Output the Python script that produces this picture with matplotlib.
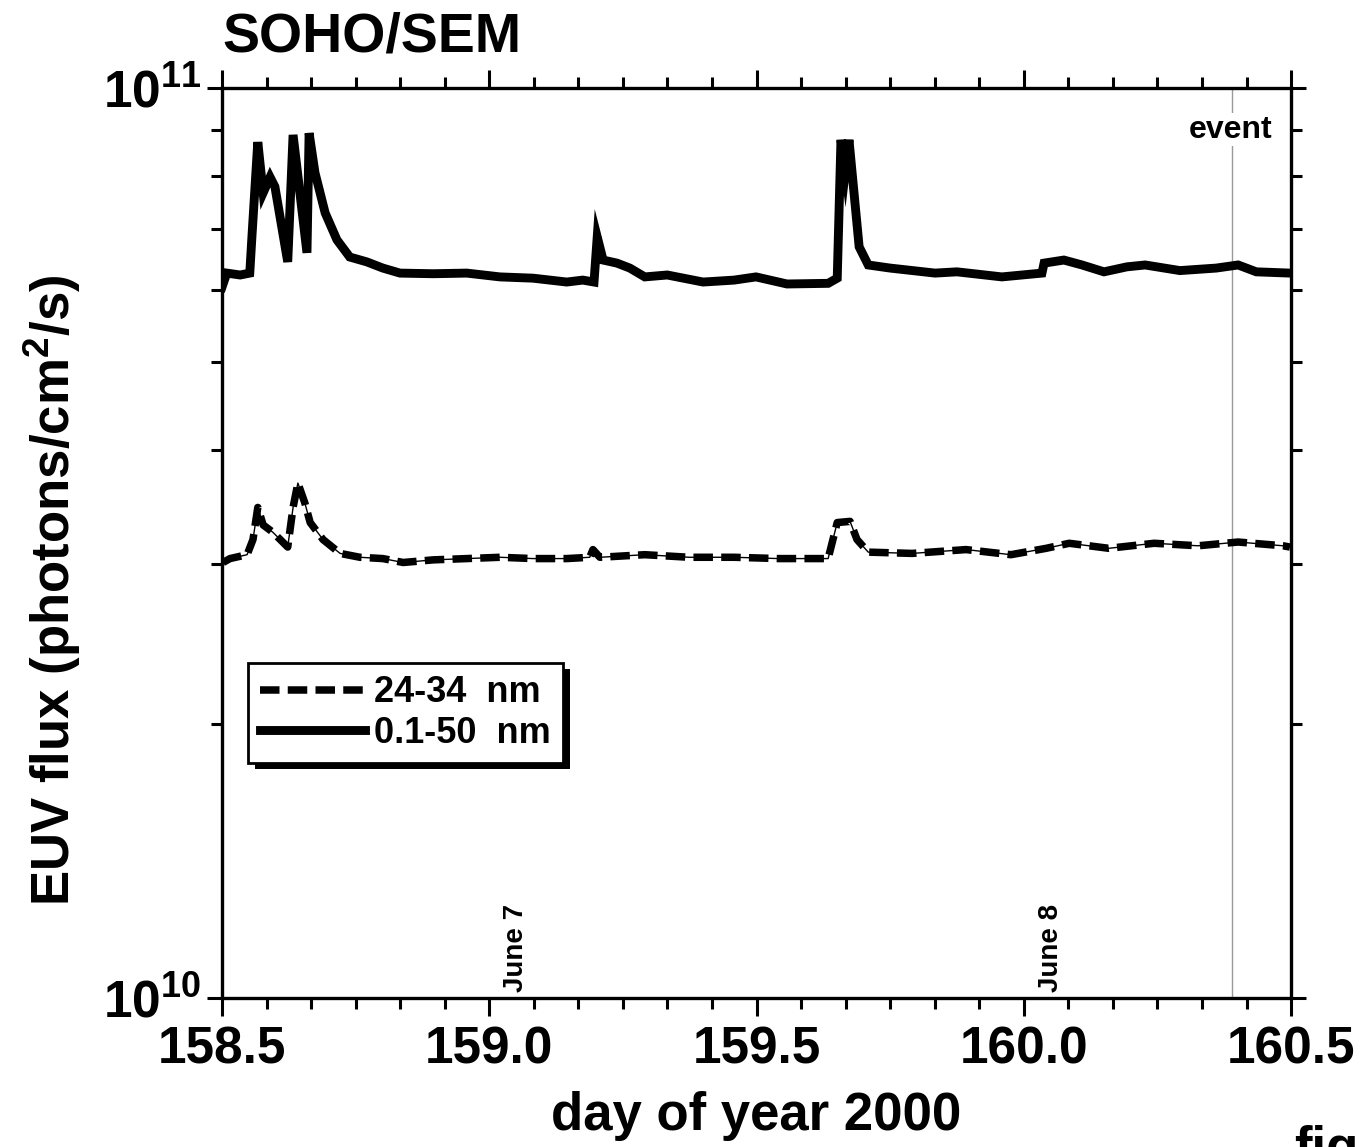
import matplotlib
matplotlib.use("Agg")
import matplotlib.pyplot as plt
from matplotlib.patches import Rectangle
from matplotlib.transforms import IdentityTransform
from matplotlib.ticker import FixedLocator, NullFormatter

plt.rcParams['font.family'] = ['Liberation Sans', 'DejaVu Sans']
plt.rcParams['font.weight'] = 'bold'
plt.rcParams['axes.labelweight'] = 'bold'
plt.rcParams['mathtext.fontset'] = 'custom'
plt.rcParams['mathtext.rm'] = 'Liberation Sans:bold'
plt.rcParams['mathtext.it'] = 'Liberation Sans:bold'
plt.rcParams['mathtext.bf'] = 'Liberation Sans:bold'

# 0.1-50 nm channel (day of year, photons/cm2/s)
day_broad = [158.500, 158.509, 158.534, 158.552, 158.556, 158.567, 158.577, 158.590,
             158.599, 158.623, 158.633, 158.659, 158.663, 158.674, 158.693, 158.715,
             158.739, 158.771, 158.801, 158.833, 158.895, 158.958, 159.020, 159.082,
             159.145, 159.175, 159.196, 159.202, 159.213, 159.239, 159.263, 159.291,
             159.333, 159.400, 159.458, 159.499, 159.557, 159.634, 159.651, 159.658,
             159.666, 159.673, 159.692, 159.709, 159.750, 159.834, 159.875, 159.959,
             160.034, 160.038, 160.075, 160.109, 160.150, 160.193, 160.227, 160.292,
             160.360, 160.401, 160.435, 160.498]
flux_broad = [6.04e10, 6.26e10, 6.23e10, 6.26e10, 6.86e10, 8.72e10, 7.67e10, 7.98e10,
              7.79e10, 6.44e10, 8.88e10, 6.59e10, 8.92e10, 8.07e10, 7.29e10, 6.81e10,
              6.52e10, 6.44e10, 6.34e10, 6.26e10, 6.25e10, 6.26e10, 6.20e10, 6.18e10,
              6.12e10, 6.15e10, 6.12e10, 6.86e10, 6.47e10, 6.42e10, 6.34e10, 6.20e10,
              6.23e10, 6.12e10, 6.15e10, 6.20e10, 6.09e10, 6.10e10, 6.18e10, 8.77e10,
              8.09e10, 8.77e10, 6.69e10, 6.39e10, 6.34e10, 6.26e10, 6.28e10, 6.20e10,
              6.26e10, 6.42e10, 6.47e10, 6.39e10, 6.28e10, 6.36e10, 6.39e10, 6.30e10,
              6.34e10, 6.39e10, 6.28e10, 6.26e10]

# 24-34 nm channel
day_narrow = [158.502, 158.515, 158.547, 158.558, 158.567, 158.577, 158.595, 158.623,
              158.633, 158.642, 158.655, 158.665, 158.689, 158.721, 158.758, 158.801,
              158.839, 158.895, 158.958, 159.020, 159.082, 159.145, 159.188, 159.194,
              159.207, 159.291, 159.374, 159.458, 159.542, 159.634, 159.651, 159.675,
              159.688, 159.709, 159.791, 159.892, 159.976, 160.042, 160.085, 160.159,
              160.244, 160.326, 160.401, 160.485, 160.498]
flux_narrow = [3.01e10, 3.04e10, 3.07e10, 3.19e10, 3.46e10, 3.31e10, 3.25e10, 3.13e10,
               3.46e10, 3.68e10, 3.50e10, 3.33e10, 3.19e10, 3.08e10, 3.05e10, 3.04e10,
               3.01e10, 3.03e10, 3.04e10, 3.05e10, 3.04e10, 3.04e10, 3.05e10, 3.11e10,
               3.05e10, 3.07e10, 3.05e10, 3.05e10, 3.04e10, 3.04e10, 3.33e10, 3.34e10,
               3.19e10, 3.09e10, 3.08e10, 3.11e10, 3.07e10, 3.12e10, 3.16e10, 3.12e10,
               3.16e10, 3.14e10, 3.17e10, 3.14e10, 3.13e10]

event_day = 160.39
date_marks = [159.0, 160.0]
date_labels = ['June 7', 'June 8']
x_major = [158.5, 159.0, 159.5, 160.0, 160.5]
x_major_labels = ['158.5', '159.0', '159.5', '160.0', '160.5']

fig = plt.figure(figsize=(13.61, 11.47), dpi=100)
ax = fig.add_axes([0.1631, 0.1299, 0.7855, 0.7934])

# thin connecting line under the dashes, then the thick dashes
ax.plot(day_narrow, flux_narrow, color='black', lw=1.0, zorder=2)
ln_narrow, = ax.plot(day_narrow, flux_narrow, color='black', lw=5.4,
                     dashes=(2.6, 1.1), dash_capstyle='butt', zorder=3)
ln_broad, = ax.plot(day_broad, flux_broad, color='black', lw=6.4,
                    solid_joinstyle='miter', zorder=3)

ax.axvline(event_day, color='0.6', lw=1.0, zorder=1)
ax.text(160.465, 9.0e10, 'event', fontsize=23, ha='right', va='center',
        bbox=dict(facecolor='white', edgecolor='none', pad=1), zorder=4)

for d, lab in zip(date_marks, date_labels):
    ax.text(d + 0.05, 1.015e10, lab, fontsize=20, rotation=90,
            ha='center', va='bottom')

ax.set_yscale('log')
ax.set_xlim(158.5, 160.5)
ax.set_ylim(1e10, 1e11)

ax.xaxis.set_major_locator(FixedLocator(x_major))
ax.set_xticklabels(x_major_labels)
ax.xaxis.set_minor_locator(FixedLocator([158.5 + i / 12 for i in range(25)]))
ax.yaxis.set_major_locator(FixedLocator([1e10, 1e11]))
ax.set_yticklabels([r'$10^{10}$', r'$10^{11}$'])
ax.yaxis.set_minor_locator(FixedLocator([k * 1e10 for k in range(2, 10)]))
ax.yaxis.set_minor_formatter(NullFormatter())

ax.tick_params(which='both', direction='out', top=True, right=True, width=2.2)
ax.tick_params(which='major', length=13, labelsize=37, pad=7)
ax.tick_params(axis='y', which='major', length=11, pad=4)
ax.tick_params(which='minor', length=8)
for s in ax.spines.values():
    s.set_linewidth(2.4)

ax.set_xlabel('day of year 2000', fontsize=38, labelpad=12)
ax.set_ylabel(r'EUV flux (photons/cm$^2$/s)', fontsize=38)
ax.yaxis.set_label_coords(-0.13, 0.448)
fig.text(0.1631, 0.99, 'SOHO/SEM', fontsize=40, ha='left', va='top')
fig.text(0.951, 1 - 1125 / 1147, 'fig', fontsize=38, ha='left', va='top')

leg = ax.legend([ln_narrow, ln_broad], ['24-34  nm', '0.1-50  nm'],
                loc='lower left', bbox_to_anchor=(0.024, 0.258), borderaxespad=0,
                fontsize=26, handlelength=2.9, handletextpad=0.25, labelspacing=0.15,
                borderpad=0.35, fancybox=False, framealpha=1, edgecolor='black')
leg.get_frame().set_linewidth(2.0)

# block shadow behind the legend box
fig.canvas.draw()
bb = leg.get_window_extent()
shadow = Rectangle((bb.x0 + 7, bb.y0 - 6), bb.width, bb.height, transform=IdentityTransform(),
                   facecolor='black', edgecolor='none', zorder=4.9)
ax.add_artist(shadow)

fig.savefig('out.png', dpi=100)
